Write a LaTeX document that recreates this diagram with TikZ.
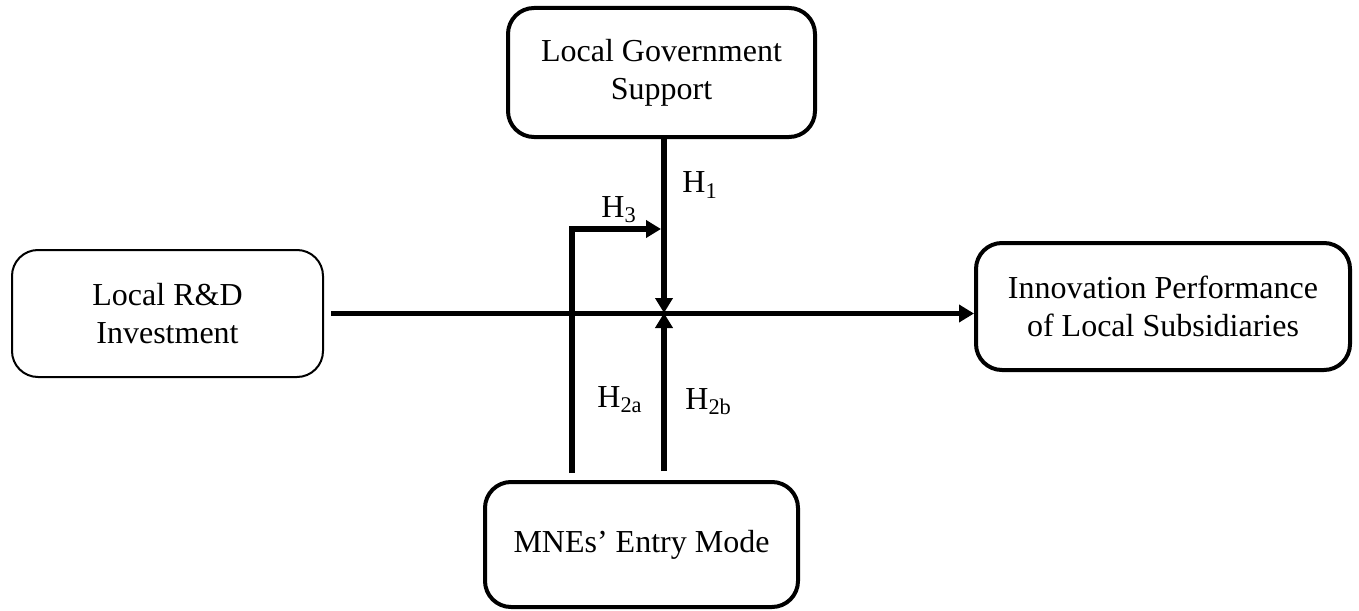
\documentclass[tikz,border=0pt]{standalone}
\usepackage{fontspec}
\setmainfont{Liberation Serif}
\usetikzlibrary{
    positioning,
    calc,
    arrows.meta
}

\begin{document}
\begin{tikzpicture}[
        x=0.5pt, y=-0.5pt,
        box/.style={
            draw,
            line width=2pt,
            rounded corners=13pt,
            inner sep=0pt,
            align=center,
            font=\fontsize{16}{19}\selectfont
        },
        link/.style={
            line width=2.7pt,
            -{Triangle[length=7.5pt,width=8.5pt]}
        },
        hyp/.style={
            anchor=west,
            inner sep=0pt,
            font=\fontsize{16}{19}\selectfont
        }
    ]

    \useasboundingbox (0,0) rectangle (1359,610);

    % the four constructs
    \node[box, line width=1pt, minimum width=155.5pt, minimum height=63.5pt]
        (rd) at (167.5,313.5) {Local R\&D\\Investment};
    \node[box, minimum width=153.5pt, minimum height=64.5pt]
        (gov) at (661.5,72.5) {Local Government\\Support};
    \node[box, minimum width=187pt, minimum height=63.5pt]
        (perf) at (1163,306.5) {Innovation Performance\\of Local Subsidiaries};
    \node[box, minimum width=156.5pt, minimum height=62.5pt]
        (entry) at (641.5,544.5) {MNEs' Entry Mode};

    % meeting points of the paths
    \coordinate (hub) at (664,313);
    \coordinate (h2a) at (572,473);
    \coordinate (mod) at (661,229);

    % main effect
    \draw[link] ($(rd.east)+(7,0)$) -- (rd.east -| perf.west);

    % H1 and H2b down and up to the main line
    \draw[link] (gov.south -| hub) -- (hub);
    \draw[link] ($(entry.north -| hub)+(0,-9)$) -- (hub);

    % H2a bending over into H3
    \draw[link] (h2a) |- (mod);

    % hypothesis labels
    \node[hyp] (l1) at (682,185) {H\textsubscript{1}};
    \node[hyp] (l3) at (601,210) {H\textsubscript{3}};
    \node[hyp] (l2a) at (597,400) {H\textsubscript{2a}};
    \node[hyp] (l2b) at (685,402) {H\textsubscript{2b}};

\end{tikzpicture}
\end{document}
